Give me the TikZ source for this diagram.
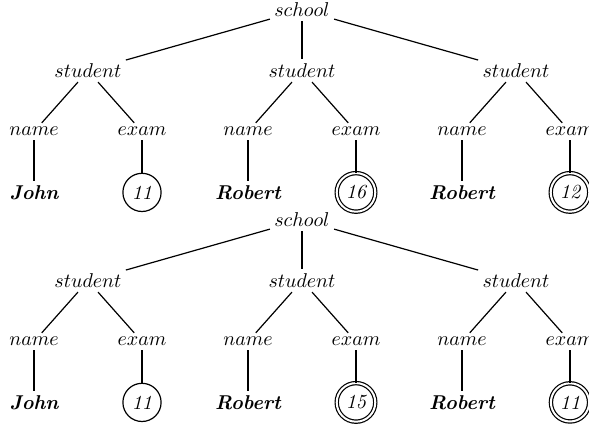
\documentclass[tikz,border=0pt]{standalone}
\usepackage{amsmath}
\usepackage{amssymb}
\usepackage{tikz}
\usetikzlibrary{positioning}
\tikzstyle{tagnode} = [on grid, inner sep=2pt]
\tikzstyle{leafnode} = [on grid, inner sep=2pt, font=\bfseries\itshape]
\tikzstyle{scorenode} = [on grid, circle, draw, semithick, inner sep=2.5pt, font=\itshape]
\tikzstyle{bestnode} = [scorenode, double, double distance=1pt]
\tikzstyle{branch} = [semithick]

\begin{document}
\begin{tikzpicture}
\useasboundingbox (-151pt,5pt) rectangle (143.5pt,-209pt);
% first tree
\node[tagnode] (schoolA) at (0,0) {$school$};
\node[tagnode, below left=30.4pt and 107pt of schoolA] (studA1) {$student$};
\node[tagnode, below=30.4pt of schoolA] (studA2) {$student$};
\node[tagnode, below right=30.4pt and 107pt of schoolA] (studA3) {$student$};
\node[tagnode, below left=30.4pt and 27pt of studA1] (nameA1) {$name$};
\node[tagnode, below right=30.4pt and 27pt of studA1] (examA1) {$exam$};
\node[tagnode, below left=30.4pt and 27pt of studA2] (nameA2) {$name$};
\node[tagnode, below right=30.4pt and 27pt of studA2] (examA2) {$exam$};
\node[tagnode, below left=30.4pt and 27pt of studA3] (nameA3) {$name$};
\node[tagnode, below right=30.4pt and 27pt of studA3] (examA3) {$exam$};
\node[leafnode, below=30.4pt of nameA1] (johnA) {John};
\node[scorenode, below=30.4pt of examA1] (scoreA1) {11};
\node[leafnode, below=30.4pt of nameA2] (robertA2) {Robert};
\node[bestnode, below=30.4pt of examA2] (scoreA2) {16};
\node[leafnode, below=30.4pt of nameA3] (robertA3) {Robert};
\node[bestnode, below=30.4pt of examA3] (scoreA3) {12};
\draw[branch] (schoolA) -- (studA1);
\draw[branch] (schoolA) -- (studA2);
\draw[branch] (schoolA) -- (studA3);
\draw[branch] (studA1) -- (nameA1);
\draw[branch] (studA1) -- (examA1);
\draw[branch] (studA2) -- (nameA2);
\draw[branch] (studA2) -- (examA2);
\draw[branch] (studA3) -- (nameA3);
\draw[branch] (studA3) -- (examA3);
\draw[branch] (nameA1) -- (johnA);
\draw[branch] (examA1) -- (scoreA1);
\draw[branch] (nameA2) -- (robertA2);
\draw[branch] (examA2) -- (scoreA2);
\draw[branch] (nameA3) -- (robertA3);
\draw[branch] (examA3) -- (scoreA3);
% second tree
\node[tagnode, below=105pt of schoolA] (schoolB) {$school$};
\node[tagnode, below left=30.4pt and 107pt of schoolB] (studB1) {$student$};
\node[tagnode, below=30.4pt of schoolB] (studB2) {$student$};
\node[tagnode, below right=30.4pt and 107pt of schoolB] (studB3) {$student$};
\node[tagnode, below left=30.4pt and 27pt of studB1] (nameB1) {$name$};
\node[tagnode, below right=30.4pt and 27pt of studB1] (examB1) {$exam$};
\node[tagnode, below left=30.4pt and 27pt of studB2] (nameB2) {$name$};
\node[tagnode, below right=30.4pt and 27pt of studB2] (examB2) {$exam$};
\node[tagnode, below left=30.4pt and 27pt of studB3] (nameB3) {$name$};
\node[tagnode, below right=30.4pt and 27pt of studB3] (examB3) {$exam$};
\node[leafnode, below=30.4pt of nameB1] (johnB) {John};
\node[scorenode, below=30.4pt of examB1] (scoreB1) {11};
\node[leafnode, below=30.4pt of nameB2] (robertB2) {Robert};
\node[bestnode, below=30.4pt of examB2] (scoreB2) {15};
\node[leafnode, below=30.4pt of nameB3] (robertB3) {Robert};
\node[bestnode, below=30.4pt of examB3] (scoreB3) {11};
\draw[branch] (schoolB) -- (studB1);
\draw[branch] (schoolB) -- (studB2);
\draw[branch] (schoolB) -- (studB3);
\draw[branch] (studB1) -- (nameB1);
\draw[branch] (studB1) -- (examB1);
\draw[branch] (studB2) -- (nameB2);
\draw[branch] (studB2) -- (examB2);
\draw[branch] (studB3) -- (nameB3);
\draw[branch] (studB3) -- (examB3);
\draw[branch] (nameB1) -- (johnB);
\draw[branch] (examB1) -- (scoreB1);
\draw[branch] (nameB2) -- (robertB2);
\draw[branch] (examB2) -- (scoreB2);
\draw[branch] (nameB3) -- (robertB3);
\draw[branch] (examB3) -- (scoreB3);
\end{tikzpicture}
\end{document}
